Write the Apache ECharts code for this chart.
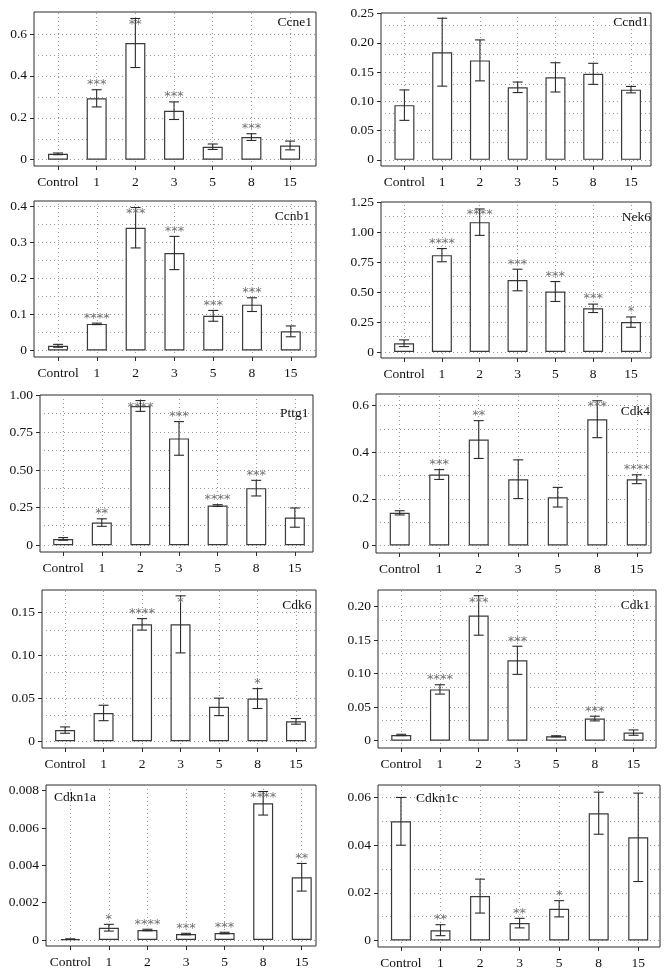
<!DOCTYPE html>
<html>
<head>
<meta charset="utf-8">
<script src="https://cdn.jsdelivr.net/npm/echarts@6/dist/echarts.min.js"></script>
<style>
  html, body { margin: 0; padding: 0; background: #fff; }
  #chart { width: 669px; height: 976px; }
</style>
</head>
<body>
<div id="chart"></div>
<script>
// time points (days)
const categories = ['Control', '1', '2', '3', '5', '8', '15'];

// Ccne1
const ccne1Mean = [0.028, 0.293, 0.557, 0.234, 0.062, 0.108, 0.068];
const ccne1Err = [0.004, 0.041, 0.117, 0.042, 0.013, 0.016, 0.021];
const ccne1Sig = ['', '***', '**', '***', '', '***', ''];
const ccne1Ticks = [0, 0.2, 0.4, 0.6];
const ccne1Labels = ['0', '0.2', '0.4', '0.6'];

// Ccnd1
const ccnd1Mean = [0.0935, 0.184, 0.170, 0.124, 0.141, 0.147, 0.120];
const ccnd1Err = [0.026, 0.058, 0.035, 0.009, 0.025, 0.018, 0.0055];
const ccnd1Sig = ['', '', '', '', '', '', ''];
const ccnd1Ticks = [0, 0.05, 0.10, 0.15, 0.20, 0.25];
const ccnd1Labels = ['0', '0.05', '0.10', '0.15', '0.20', '0.25'];

// Ccnb1
const ccnb1Mean = [0.013, 0.0737, 0.340, 0.270, 0.096, 0.127, 0.053];
const ccnb1Err = [0.004, 0.002, 0.056, 0.046, 0.015, 0.019, 0.015];
const ccnb1Sig = ['', '****', '***', '***', '***', '***', ''];
const ccnb1Ticks = [0, 0.1, 0.2, 0.3, 0.4];
const ccnb1Labels = ['0', '0.1', '0.2', '0.3', '0.4'];

// Nek6
const nek6Mean = [0.073, 0.807, 1.082, 0.600, 0.504, 0.364, 0.249];
const nek6Err = [0.028, 0.055, 0.11, 0.09, 0.083, 0.035, 0.043];
const nek6Sig = ['', '****', '****', '***', '***', '***', '*'];
const nek6Ticks = [0, 0.25, 0.5, 0.75, 1.0, 1.25];
const nek6Labels = ['0', '0.25', '0.50', '0.75', '1.00', '1.25'];

// Pttg1
const pttg1Mean = [0.042, 0.151, 0.927, 0.711, 0.264, 0.380, 0.184];
const pttg1Err = [0.009, 0.025, 0.036, 0.112, 0.006, 0.052, 0.064];
const pttg1Sig = ['', '**', '****', '***', '****', '***', ''];
const pttg1Ticks = [0, 0.25, 0.5, 0.75, 1.0];
const pttg1Labels = ['0', '0.25', '0.50', '0.75', '1.00'];

// Cdk4
const cdk4Mean = [0.140, 0.304, 0.454, 0.284, 0.207, 0.541, 0.284];
const cdk4Err = [0.009, 0.021, 0.081, 0.083, 0.042, 0.079, 0.019];
const cdk4Sig = ['', '***', '**', '', '', '***', '****'];
const cdk4Ticks = [0, 0.2, 0.4, 0.6];
const cdk4Labels = ['0', '0.2', '0.4', '0.6'];

// Cdk6
const cdk6Mean = [0.0129, 0.0329, 0.1363, 0.1363, 0.040, 0.0497, 0.0231];
const cdk6Err = [0.0037, 0.009, 0.0067, 0.0333, 0.0102, 0.0116, 0.0033];
const cdk6Sig = ['', '', '****', '*', '', '*', ''];
const cdk6Ticks = [0, 0.05, 0.10, 0.15];
const cdk6Labels = ['0', '0.05', '0.10', '0.15'];

// Cdk1
const cdk1Mean = [0.0085, 0.0765, 0.187, 0.120, 0.0065, 0.033, 0.012];
const cdk1Err = [0.001, 0.007, 0.0295, 0.021, 0.0008, 0.0035, 0.004];
const cdk1Sig = ['', '****', '***', '***', '', '***', ''];
const cdk1Ticks = [0, 0.05, 0.10, 0.15, 0.20];
const cdk1Labels = ['0', '0.05', '0.10', '0.15', '0.20'];

// Cdkn1a
const cdkn1aMean = [0.00005, 0.00066, 0.000536, 0.00032, 0.000375, 0.00732, 0.00336];
const cdkn1aErr = [0.00001, 0.00018, 0.00004, 0.00004, 0.00004, 0.00063, 0.00074];
const cdkn1aSig = ['', '*', '****', '***', '***', '****', '**'];
const cdkn1aTicks = [0, 0.002, 0.004, 0.006, 0.008];
const cdkn1aLabels = ['0', '0.002', '0.004', '0.006', '0.008'];

// Cdkn1c
const cdkn1cMean = [0.0499, 0.00434, 0.0186, 0.0073, 0.0133, 0.0533, 0.0432];
const cdkn1cErr = [0.01, 0.0023, 0.0071, 0.002, 0.0034, 0.0088, 0.0185];
const cdkn1cSig = ['', '**', '', '**', '*', '', ''];
const cdkn1cTicks = [0, 0.02, 0.04, 0.06];
const cdkn1cLabels = ['0', '0.02', '0.04', '0.06'];

const panels = [
  { name: 'Ccne1', mean: ccne1Mean, err: ccne1Err, sig: ccne1Sig, ticks: ccne1Ticks, labels: ccne1Labels },
  { name: 'Ccnd1', mean: ccnd1Mean, err: ccnd1Err, sig: ccnd1Sig, ticks: ccnd1Ticks, labels: ccnd1Labels },
  { name: 'Ccnb1', mean: ccnb1Mean, err: ccnb1Err, sig: ccnb1Sig, ticks: ccnb1Ticks, labels: ccnb1Labels },
  { name: 'Nek6', mean: nek6Mean, err: nek6Err, sig: nek6Sig, ticks: nek6Ticks, labels: nek6Labels },
  { name: 'Pttg1', mean: pttg1Mean, err: pttg1Err, sig: pttg1Sig, ticks: pttg1Ticks, labels: pttg1Labels },
  { name: 'Cdk4', mean: cdk4Mean, err: cdk4Err, sig: cdk4Sig, ticks: cdk4Ticks, labels: cdk4Labels },
  { name: 'Cdk6', mean: cdk6Mean, err: cdk6Err, sig: cdk6Sig, ticks: cdk6Ticks, labels: cdk6Labels },
  { name: 'Cdk1', mean: cdk1Mean, err: cdk1Err, sig: cdk1Sig, ticks: cdk1Ticks, labels: cdk1Labels },
  { name: 'Cdkn1a', mean: cdkn1aMean, err: cdkn1aErr, sig: cdkn1aSig, ticks: cdkn1aTicks, labels: cdkn1aLabels },
  { name: 'Cdkn1c', mean: cdkn1cMean, err: cdkn1cErr, sig: cdkn1cSig, ticks: cdkn1cTicks, labels: cdkn1cLabels }
];

// layout of each panel: box [left, top, width, height], y range, x range, title anchor
const layout = [
  { box: [34, 12, 282, 154], y: [-0.03, 0.705], x: [-0.62, 6.67], title: ['right', 312, 23] },
  { box: [381, 13, 270, 153], y: [-0.0105, 0.251], x: [-0.62, 6.53], title: ['right', 648.5, 23] },
  { box: [34, 201, 282, 156], y: [-0.018, 0.414], x: [-0.62, 6.65], title: ['right', 310, 217.5] },
  { box: [381, 202, 270, 156], y: [-0.05, 1.25], x: [-0.61, 6.53], title: ['right', 651, 218] },
  { box: [40, 395, 273, 157], y: [-0.045, 1.0], x: [-0.6, 6.47], title: ['right', 308.5, 414] },
  { box: [376, 394, 275, 159], y: [-0.032, 0.649], x: [-0.6, 6.36], title: ['right', 650, 412] },
  { box: [42, 590, 274, 158], y: [-0.008, 0.1764], x: [-0.6, 6.52], title: ['right', 311.5, 606.5] },
  { box: [378, 590, 278, 158], y: [-0.011, 0.225], x: [-0.6, 6.58], title: ['right', 650, 606.5] },
  { box: [46, 785, 270, 161], y: [-0.00032, 0.0083], x: [-0.63, 6.37], title: ['left', 54, 798] },
  { box: [378, 785, 282, 162], y: [-0.0027, 0.0651], x: [-0.58, 6.55], title: ['left', 416, 799] }
];

const FONT = 'Liberation Serif';
const FSIZE = 13.5;
const catIdx = categories.map((c, j) => j);

const chartDom = document.getElementById('chart');
const myChart = echarts.init(chartDom);

let grids = [], xAxes = [], yAxes = [], series = [], titles = [];

panels.forEach(function (p, i) {
  const L = layout[i];
  grids.push({
    left: L.box[0], top: L.box[1], width: L.box[2], height: L.box[3],
    show: true, borderColor: '#2a2a2a', borderWidth: 1, backgroundColor: 'transparent',
    containLabel: false, outerBoundsMode: 'none'
  });

  xAxes.push({
    type: 'value', gridIndex: i, min: L.x[0], max: L.x[1],
    axisLine: { show: false, onZero: false },
    axisTick: { show: true, customValues: catIdx, length: 4, lineStyle: { color: '#2a2a2a' } },
    axisLabel: {
      customValues: catIdx, margin: 9, color: '#111', fontSize: FSIZE, fontFamily: FONT,
      formatter: function (v) { return categories[Math.round(v)]; }
    },
    splitLine: { show: false }
  });

  yAxes.push({
    type: 'value', gridIndex: i, min: L.y[0], max: L.y[1],
    axisLine: { show: false, onZero: false },
    axisTick: { show: true, customValues: p.ticks, length: 4, lineStyle: { color: '#2a2a2a' } },
    axisLabel: {
      customValues: p.ticks, margin: 7, color: '#111', fontSize: FSIZE, fontFamily: FONT,
      formatter: function (v) {
        let k = 0;
        p.ticks.forEach(function (t, j) { if (Math.abs(t - v) < Math.abs(p.ticks[k] - v)) k = j; });
        return p.labels[k];
      }
    },
    splitLine: { show: false }
  });

  // dotted grid: one line per category, horizontal ones every half tick step
  const half = (p.ticks[1] - p.ticks[0]) / 2;
  let hLines = [];
  for (let k = 0; k * half < L.y[1] - half * 0.05; k++) hLines.push(k * half);
  const gridLines = catIdx.map(x => ({ xAxis: x })).concat(hLines.map(y => ({ yAxis: y })));

  series.push({
    type: 'bar', xAxisIndex: i, yAxisIndex: i,
    data: p.mean.map((v, j) => [j, v]),
    barWidth: 20,
    itemStyle: { color: '#fff', borderColor: '#3a3a3a', borderWidth: 1.2 },
    emphasis: { disabled: true },
    silent: true,
    z: 2,
    markLine: {
      silent: true, z: 1, symbol: ['none', 'none'],
      label: { show: false },
      lineStyle: { type: [1, 3], color: '#999', width: 1 },
      emphasis: { disabled: true },
      data: gridLines
    }
  });

  series.push({
    type: 'custom', xAxisIndex: i, yAxisIndex: i, z: 3, silent: true,
    data: p.mean.map((v, j) => [j, v, p.err[j]]),
    renderItem: function (params, api) {
      const x = api.value(0), m = api.value(1), e = api.value(2);
      const pTop = api.coord([x, m + e]);
      const pBot = api.coord([x, m - e]);
      const cap = 5;
      const st = { stroke: '#2a2a2a', lineWidth: 1.1 };
      const children = [
        { type: 'line', shape: { x1: pTop[0], y1: pTop[1], x2: pBot[0], y2: pBot[1] }, style: st },
        { type: 'line', shape: { x1: pTop[0] - cap, y1: pTop[1], x2: pTop[0] + cap, y2: pTop[1] }, style: st },
        { type: 'line', shape: { x1: pBot[0] - cap, y1: pBot[1], x2: pBot[0] + cap, y2: pBot[1] }, style: st }
      ];
      const s = p.sig[params.dataIndex];
      if (s) {
        const yText = Math.max(pTop[1] - 5, params.coordSys.y + 13);
        children.push({
          type: 'text',
          style: { text: s, x: pTop[0], y: yText, align: 'center', verticalAlign: 'middle',
                   fill: '#707070', font: '13px "DejaVu Sans"' }
        });
      }
      return { type: 'group', children: children };
    }
  });

  const t = L.title;
  const ttl = {
    text: p.name, top: t[2] - 8, padding: 0,
    textStyle: { fontSize: FSIZE, fontWeight: 'normal', fontFamily: FONT, color: '#111' }
  };
  if (t[0] === 'right') ttl.right = 669 - t[1]; else ttl.left = t[1];
  titles.push(ttl);
});

const option = {
  animation: false,
  backgroundColor: '#fff',
  title: titles,
  grid: grids,
  xAxis: xAxes,
  yAxis: yAxes,
  series: series
};

option && myChart.setOption(option);
</script>
</body>
</html>
